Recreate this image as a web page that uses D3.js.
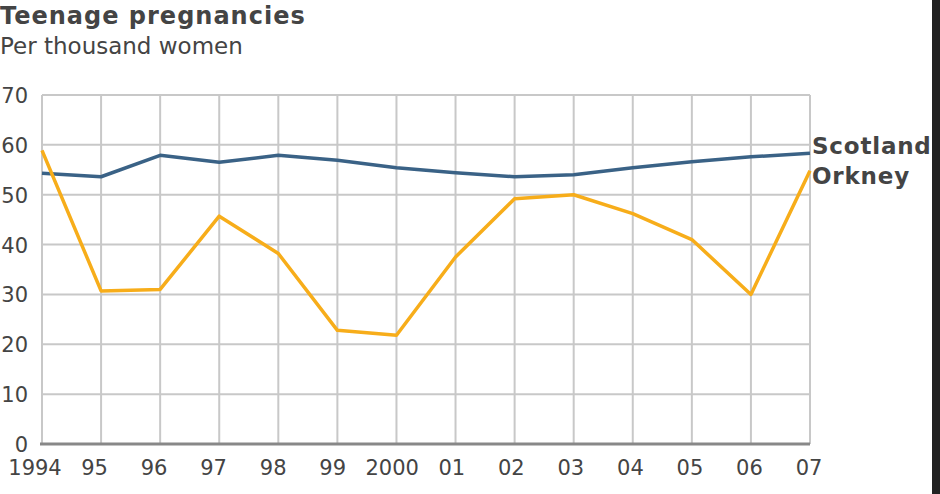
<!DOCTYPE html>
<html><head><meta charset="utf-8">
<script src="https://cdn.jsdelivr.net/npm/d3@7"></script>
<style>body{margin:0;background:#fff}svg{display:block}</style>
</head><body>
<script>
const years = ["1994","95","96","97","98","99","2000","01","02","03","04","05","06","07"];
const scotland = [54.3,53.6,57.9,56.5,57.9,56.9,55.4,54.4,53.6,54.0,55.4,56.6,57.6,58.3];
const orkney = [58.9,30.7,31.0,45.7,38.2,22.8,21.8,37.5,49.2,50.0,46.2,41.0,30.0,54.8];
const yTicks = [0,10,20,30,40,50,60,70];
const seriesNames = ["Scotland","Orkney"];

const W=940,H=494;
const svg=d3.select("body").append("svg").attr("width",W).attr("height",H);
const font="DejaVu Sans, Verdana, sans-serif";
const x=d3.scalePoint().domain(years).range([42,810]);
const xl=d3.scalePoint().domain(years).range([35,809]);
const y=d3.scaleLinear().domain([0,70]).range([444,95]);

svg.append("rect").attr("x",932).attr("y",0).attr("width",8).attr("height",H).attr("fill","#222");

svg.append("text").attr("x",0).attr("y",24).attr("font-family",font).attr("font-weight","bold")
  .attr("font-size",24).attr("letter-spacing",1).attr("fill","#444").text("Teenage pregnancies");
svg.append("text").attr("x",0).attr("y",54).attr("font-family",font)
  .attr("font-size",23).attr("fill","#444").text("Per thousand women");

const g=svg.append("g");
g.selectAll("line.h").data(yTicks.filter(d=>d>0)).join("line")
  .attr("x1",42).attr("x2",810).attr("y1",d=>y(d)).attr("y2",d=>y(d))
  .attr("stroke","#c8c8c8").attr("stroke-width",2);
g.selectAll("line.v").data(years).join("line")
  .attr("x1",d=>x(d)).attr("x2",d=>x(d)).attr("y1",y(70)).attr("y2",y(0))
  .attr("stroke","#c8c8c8").attr("stroke-width",2);
g.append("line").attr("x1",40).attr("x2",810).attr("y1",y(0)).attr("y2",y(0))
  .attr("stroke","#888").attr("stroke-width",3);

g.selectAll("text.yt").data(yTicks).join("text")
  .attr("x",28).attr("y",d=>y(d)+8).attr("text-anchor","end")
  .attr("font-family",font).attr("font-size",21).attr("fill","#444").text(d=>d);
g.selectAll("text.xt").data(years).join("text")
  .attr("x",d=>xl(d)).attr("y",475).attr("text-anchor","middle")
  .attr("font-family",font).attr("font-size",21).attr("fill","#444").text(d=>d);

const line=d3.line().x((d,i)=>x(years[i])).y(d=>y(d));
svg.append("path").datum(scotland).attr("d",line).attr("fill","none")
  .attr("stroke","#3a6286").attr("stroke-width",3.5).attr("stroke-linejoin","round");
svg.append("path").datum(orkney).attr("d",line).attr("fill","none")
  .attr("stroke","#f7ad1a").attr("stroke-width",3.5).attr("stroke-linejoin","round");

svg.append("text").attr("x",812).attr("y",154).attr("font-family",font).attr("font-weight","bold")
  .attr("font-size",23).attr("letter-spacing",0.8).attr("fill","#444").text(seriesNames[0]);
svg.append("text").attr("x",812).attr("y",184).attr("font-family",font).attr("font-weight","bold")
  .attr("font-size",23).attr("letter-spacing",0.8).attr("fill","#444").text(seriesNames[1]);
</script>
</body></html>
